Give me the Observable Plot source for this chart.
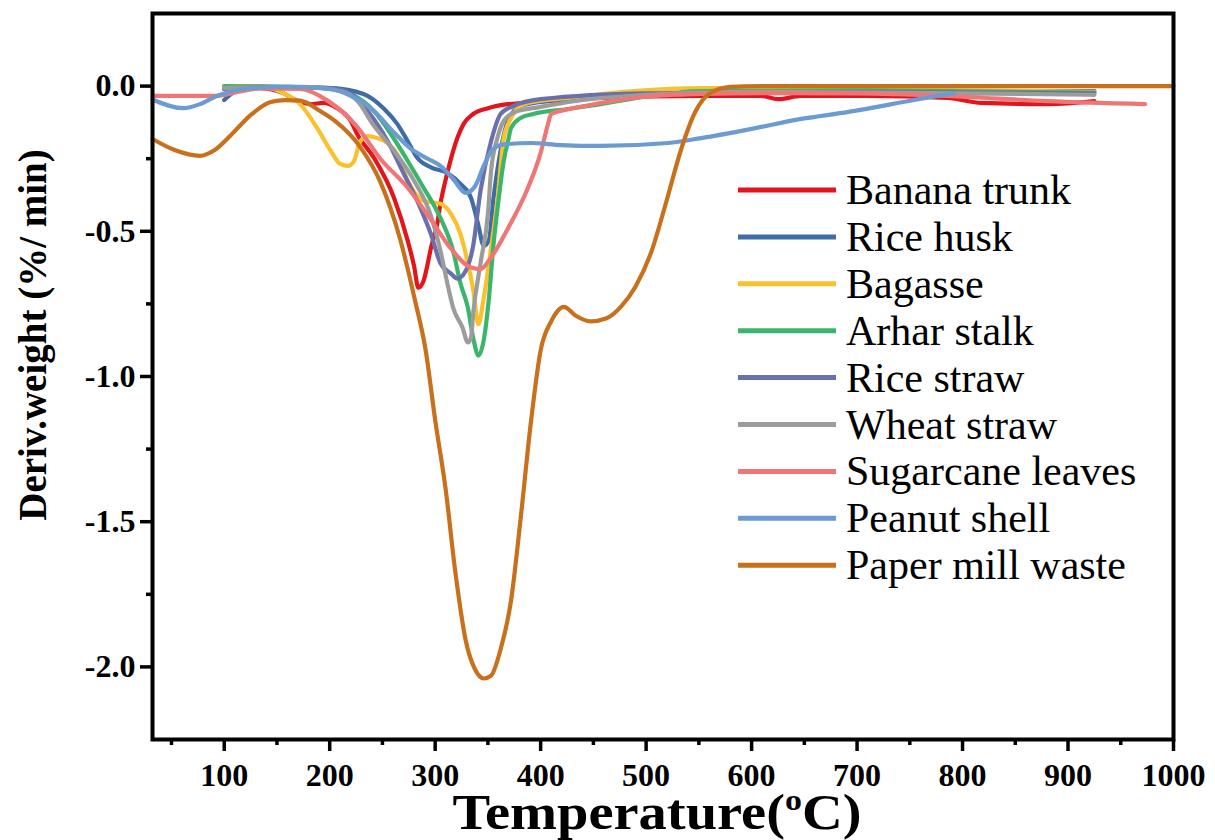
<!DOCTYPE html>
<html>
<head>
<meta charset="utf-8">
<script src="https://cdn.jsdelivr.net/npm/d3@7"></script>
<script src="https://cdn.jsdelivr.net/npm/@observablehq/plot@0.6"></script>
<style>
  html, body { margin: 0; padding: 0; background: #fff; }
  #chart svg { display: block; }
</style>
</head>
<body>
<div id="chart"></div>
<script>
// ---- data: [Temperature (°C), Deriv. weight (%/min)] ----
const seriesNames = ["Banana trunk", "Rice husk", "Bagasse", "Arhar stalk", "Rice straw",
  "Wheat straw", "Sugarcane leaves", "Peanut shell", "Paper mill waste"];
const seriesColors = ["#e3141c", "#3f6ca2", "#f9c22c", "#3cb56c", "#6a6fae",
  "#9c9c9c", "#f07676", "#6c9bd2", "#c8701c"];

const bananaTrunk = [[100,-0.01],[134,-0.007],[156,-0.024],[166,-0.045],[182,-0.062],[194,-0.058],[207,-0.076],[220,-0.12],[226,-0.165],[242,-0.247],[261,-0.385],[274,-0.533],[280,-0.62],[284,-0.694],[289,-0.67],[293,-0.61],[296,-0.557],[302,-0.474],[305,-0.405],[312,-0.292],[321,-0.179],[327,-0.13],[336,-0.096],[350,-0.076],[369,-0.062],[384,-0.058],[457,-0.041],[552,-0.034],[609,-0.034],[625,-0.045],[647,-0.034],[707,-0.034],[786,-0.041],[818,-0.058],[881,-0.062],[925,-0.052]];
const riceHusk = [[100,-0.048],[115,-0.01],[134,-0.003],[201,-0.007],[232,-0.027],[251,-0.076],[264,-0.13],[274,-0.19],[283,-0.247],[296,-0.28],[312,-0.3],[324,-0.337],[334,-0.385],[341,-0.48],[346,-0.55],[351,-0.53],[355,-0.395],[362,-0.223],[369,-0.12],[381,-0.069],[405,-0.052],[500,-0.03],[650,-0.02],[800,-0.017],[925,-0.017]];
const bagasse = [[100,0.0],[134,0.0],[156,-0.024],[172,-0.062],[188,-0.144],[201,-0.223],[210,-0.268],[217,-0.275],[223,-0.258],[229,-0.19],[236,-0.172],[245,-0.179],[255,-0.196],[264,-0.234],[274,-0.326],[289,-0.395],[305,-0.405],[315,-0.44],[324,-0.51],[331,-0.61],[336,-0.70],[341,-0.82],[346,-0.73],[353,-0.557],[359,-0.395],[365,-0.179],[372,-0.11],[378,-0.076],[388,-0.058],[426,-0.041],[488,-0.017],[552,-0.007],[700,-0.01],[925,-0.02]];
const arharStalk = [[100,0.0],[201,-0.007],[220,-0.027],[242,-0.086],[258,-0.165],[274,-0.258],[289,-0.35],[305,-0.454],[317,-0.567],[324,-0.68],[331,-0.763],[336,-0.866],[341,-0.928],[346,-0.876],[351,-0.729],[355,-0.557],[360,-0.395],[365,-0.258],[369,-0.19],[372,-0.144],[381,-0.11],[393,-0.096],[426,-0.079],[457,-0.062],[504,-0.034],[552,-0.017],[700,-0.015],[925,-0.022]];
const riceStraw = [[100,-0.01],[134,-0.003],[201,-0.007],[220,-0.027],[236,-0.086],[255,-0.19],[270,-0.30],[283,-0.395],[296,-0.51],[305,-0.61],[315,-0.646],[321,-0.663],[329,-0.636],[336,-0.55],[343,-0.36],[353,-0.19],[362,-0.096],[374,-0.069],[400,-0.045],[500,-0.025],[700,-0.02],[925,-0.025]];
const wheatStraw = [[100,-0.007],[172,-0.003],[210,-0.017],[226,-0.05],[242,-0.137],[261,-0.223],[280,-0.326],[296,-0.447],[305,-0.567],[312,-0.687],[317,-0.763],[326,-0.832],[331,-0.883],[334,-0.866],[336,-0.784],[343,-0.61],[350,-0.44],[353,-0.292],[359,-0.179],[365,-0.12],[378,-0.086],[393,-0.076],[457,-0.041],[600,-0.02],[800,-0.025],[925,-0.03]];
const sugarcaneLeaves = [[32,-0.034],[93,-0.034],[108,-0.024],[134,-0.008],[172,-0.01],[198,-0.05],[226,-0.14],[248,-0.25],[274,-0.35],[296,-0.46],[315,-0.56],[334,-0.625],[343,-0.63],[353,-0.59],[369,-0.49],[388,-0.35],[400,-0.23],[407,-0.13],[410,-0.096],[426,-0.08],[457,-0.058],[488,-0.041],[552,-0.027],[615,-0.024],[700,-0.025],[786,-0.034],[881,-0.052],[973,-0.062]];
const peanutShell = [[32,-0.046],[61,-0.076],[77,-0.062],[93,-0.034],[108,-0.017],[125,-0.007],[163,-0.003],[201,-0.01],[220,-0.034],[242,-0.086],[261,-0.16],[277,-0.216],[293,-0.25],[305,-0.275],[317,-0.32],[329,-0.368],[338,-0.344],[346,-0.275],[355,-0.216],[367,-0.2],[391,-0.196],[419,-0.203],[457,-0.206],[521,-0.196],[552,-0.179],[599,-0.148],[647,-0.113],[692,-0.089],[754,-0.048],[792,-0.024]];
const paperMillWaste = [[32,-0.182],[53,-0.22],[77,-0.24],[91,-0.22],[106,-0.17],[125,-0.10],[144,-0.055],[158,-0.048],[172,-0.05],[191,-0.086],[205,-0.12],[229,-0.21],[248,-0.33],[267,-0.53],[281,-0.74],[291,-0.91],[300,-1.15],[310,-1.39],[319,-1.67],[329,-1.91],[338,-2.01],[346,-2.04],[353,-2.03],[362,-1.94],[372,-1.77],[381,-1.49],[391,-1.15],[400,-0.91],[410,-0.81],[422,-0.76],[433,-0.79],[447,-0.81],[462,-0.80],[476,-0.76],[490,-0.69],[505,-0.57],[519,-0.40],[533,-0.22],[547,-0.086],[561,-0.024],[580,-0.003],[609,0.0],[800,0.0],[1000,0.0]];

const xMajorTicks = [100, 200, 300, 400, 500, 600, 700, 800, 900, 1000];
const xMinorTicks = [50, 150, 250, 350, 450, 550, 650, 750, 850, 950];
const yMajorTicks = [0.0, -0.5, -1.0, -1.5, -2.0];
const yMinorTicks = [-0.25, -0.75, -1.25, -1.75];

const xTitle = "Temperature(";
const xTitleSup = "o";
const xTitleEnd = "C)";
const yTitle = "Deriv.weight (%/ min)";

// ---- build table ----
const allSeries = [bananaTrunk, riceHusk, bagasse, arharStalk, riceStraw, wheatStraw, sugarcaneLeaves, peanutShell, paperMillWaste];
const rows = allSeries.flatMap((s, i) => s.map(([t, v]) => ({series: seriesNames[i], t, v})));

const W = 1215, H = 840;
const marginLeft = 152, marginRight = 42, marginTop = 13, marginBottom = 101;
const serif = "'Liberation Serif', 'Times New Roman', Times, serif";

const svg = Plot.plot({
  width: W,
  height: H,
  marginLeft, marginRight, marginTop, marginBottom,
  style: {fontFamily: serif, fontSize: "32px", fontWeight: "bold", color: "#000", background: "#fff"},
  x: {domain: [32, 1000]},
  y: {domain: [-2.25, 0.25]},
  color: {domain: seriesNames, range: seriesColors},
  marks: [
    Plot.line(rows, {x: "t", y: "v", z: "series", stroke: "series", strokeWidth: 4.2, curve: "monotone-x"}),
    Plot.axisX({ticks: xMinorTicks, tickSize: 6, strokeWidth: 3.5, text: null, label: null}),
    Plot.axisX({ticks: xMajorTicks, tickSize: 12, strokeWidth: 3.5, tickPadding: 12, tickFormat: d => String(d), label: null}),
    Plot.axisY({ticks: yMinorTicks, tickSize: 6, strokeWidth: 3.5, text: null, label: null}),
    Plot.axisY({ticks: yMajorTicks, tickSize: 12, strokeWidth: 3.5, tickPadding: 5, tickFormat: d => d.toFixed(1), label: null}),
    Plot.frame({stroke: "#000", strokeWidth: 4})
  ]
});

document.getElementById("chart").appendChild(svg);

const s = d3.select(svg);

// x title with superscript (slightly widened like the reference face)
const xt = s.append("text")
  .attr("transform", "translate(657,829) scale(1.13,1)")
  .attr("text-anchor", "middle")
  .attr("font-family", serif)
  .attr("font-weight", "bold")
  .attr("font-size", 50)
  .attr("fill", "#000");
xt.append("tspan").text(xTitle);
xt.append("tspan").attr("dy", -19).attr("font-size", 30).text(xTitleSup);
xt.append("tspan").attr("dy", 19).text(xTitleEnd);

// y title
s.append("text")
  .attr("transform", "translate(46,335) rotate(-90)")
  .attr("text-anchor", "middle")
  .attr("font-family", serif)
  .attr("font-weight", "bold")
  .attr("font-size", 39)
  .attr("fill", "#000")
  .text(yTitle);

// legend inside plot
const lg = s.append("g");
seriesNames.forEach((name, i) => {
  const cy = 190 + i * 46.9;
  lg.append("line").attr("x1", 738).attr("x2", 836).attr("y1", cy).attr("y2", cy)
    .attr("stroke", seriesColors[i]).attr("stroke-width", 5);
  lg.append("text").attr("x", 846).attr("y", cy + 14)
    .attr("text-anchor", "start")
    .attr("font-family", serif).attr("font-weight", "normal").attr("font-size", 42)
    .attr("fill", "#000").text(name);
});
</script>
</body>
</html>
